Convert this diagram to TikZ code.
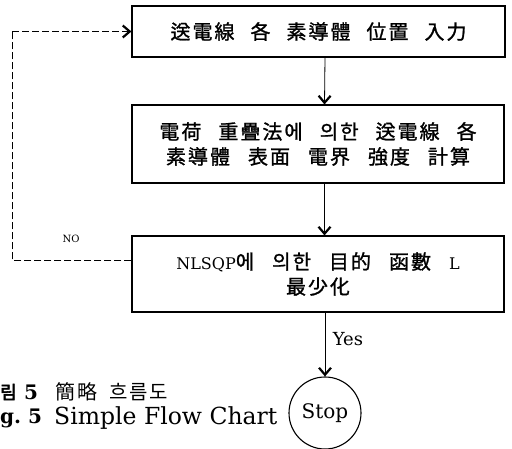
\documentclass[tikz,border=0pt]{standalone}
\usepackage{fontspec}
\setmainfont{DejaVu Serif}
\newfontfamily\kr[LetterSpace=10,FakeBold=1.2]{Noto Sans CJK KR}
\newfontfamily\krcap[LetterSpace=10]{Noto Sans CJK KR}
\newfontfamily\krb[FakeBold=3]{Noto Sans CJK KR}
\usetikzlibrary{arrows.meta}
\newcommand{\gap}[1][0.8em]{\hspace{#1}}
\begin{document}
\begin{tikzpicture}[x=1pt,y=-1pt,
  box/.style={draw, line width=1.1pt, inner sep=0pt, align=center},
  tip/.tip={Straight Barb[length=7pt,width=12pt,line width=2.2pt]},
  flow/.style={-tip, line width=0.8pt},
  fb/.style={dash pattern=on 7pt off 3pt, line width=0.5pt},
  cjk/.style={font=\kr\fontsize{20}{25}\selectfont},
  lbl/.style={inner sep=0pt}
]
\useasboundingbox (0,0) rectangle (512,449);

\node[box, cjk, minimum width=373pt, minimum height=51pt] (b1) at (318.5,31.5)
  {送電線\gap 各\gap 素導體\gap 位置\gap 入力};
\node[box, cjk, minimum width=372pt, minimum height=78pt] (b2) at (318,144)
  {電荷\gap[0.85em]重疊法에\gap[0.85em]의한\gap[0.85em]送電線\gap[0.85em]各\\素導體\gap[0.9em]表面\gap[0.9em]電界\gap[0.9em]強度\gap[0.9em]計算};
\node[box, cjk, minimum width=372pt, minimum height=76pt] (b3) at (318,274)
  {{\rmfamily\fontsize{16}{25}\selectfont NLSQP}에\gap[0.9em]의한\gap[0.9em]目的\gap[0.9em]函數\gap[0.9em]{\rmfamily\fontsize{16}{25}\selectfont L}\\最少化};
\node[draw, circle, line width=1.1pt, minimum size=72pt, inner sep=0pt,
  font=\fontsize{20}{22}\selectfont] (stop) at (325,413) {Stop};

\draw[flow] ([xshift=6.5pt]b1.south) -- ([xshift=6.5pt]b2.north);
\draw[flow] ([xshift=6.5pt]b2.south) -- ([xshift=6.5pt]b3.north);
\draw[flow] ([xshift=7pt]b3.south) -- (stop.north);

\node[lbl, font=\fontsize{18}{20}\selectfont] (yes) at (348,339) {Yes};
\node[lbl, font=\fontsize{10}{11}\selectfont] (no) at (71,239) {NO};

\coordinate (fa) at (12,260);
\coordinate (fb) at (12,31.5);
\draw[fb] ([yshift=14pt]b3.west) -- (fa) -- (fb);
\draw[fb, -tip] (fb) -- (b1.west);

\node[lbl, anchor=west, font=\krb\fontsize{18}{20}\selectfont] (c1a) at (0,392) {림};
\node[lbl, anchor=west, font=\bfseries\fontsize{20}{22}\selectfont] (c1b) at (24,392) {5};
\node[lbl, anchor=west, font=\krcap\fontsize{20}{22}\selectfont] (c1c) at (55,392) {簡略\hspace{0.6em}흐름도};
\node[lbl, anchor=west, font=\bfseries\fontsize{20}{22}\selectfont] (c2a) at (0,418) {g.\hspace{0.35em}5};
\node[lbl, anchor=west, font=\fontsize{23.5}{25}\selectfont] (c2c) at (54,418) {Simple Flow Chart};
\end{tikzpicture}
\end{document}
